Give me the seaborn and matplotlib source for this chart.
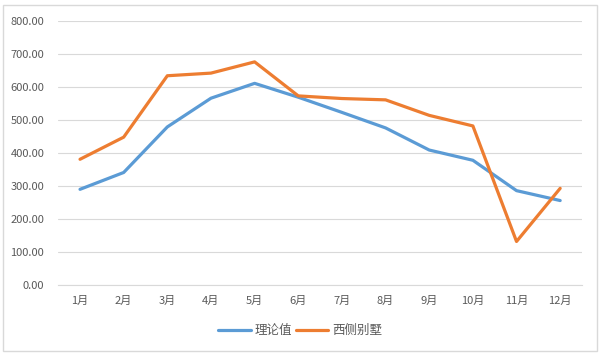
import matplotlib
matplotlib.use("Agg")
import matplotlib.pyplot as plt
import seaborn as sns
import pandas as pd
from matplotlib.patches import Rectangle

months = ["1月", "2月", "3月", "4月", "5月", "6月", "7月", "8月", "9月", "10月", "11月", "12月"]
theory = [290, 341, 479, 566, 611, 569, 523, 476, 409, 378, 286, 256]
west_villa = [381, 448, 634, 642, 676, 573, 565, 561, 514, 482, 132, 293]
series_names = ["理论值", "西侧别墅"]
yticks = [0, 100, 200, 300, 400, 500, 600, 700, 800]

df = pd.DataFrame({
    "month": months * 2,
    "value": theory + west_villa,
    "series": [series_names[0]] * 12 + [series_names[1]] * 12,
})

sns.set_theme(style="white")
plt.rcParams["font.family"] = ["Noto Sans CJK SC", "DejaVu Sans"]

fig = plt.figure(figsize=(6, 3.55), dpi=100)
ax = fig.add_axes([0.097, 0.197, 0.873, 0.744])

palette = {series_names[0]: "#5B9BD5", series_names[1]: "#ED7D31"}
sns.lineplot(data=df, x="month", y="value", hue="series", palette=palette,
             linewidth=2.3, ax=ax, legend=True, sort=False)

ax.set_xlim(-0.5, 11.5)
ax.set_ylim(0, 800)
ax.set_yticks(yticks)
ax.set_yticklabels([f"{v:.2f}" for v in yticks])
ax.grid(axis="y", color="#d9d9d9", linewidth=0.8)
ax.set_axisbelow(True)
for s in ["top", "right", "left"]:
    ax.spines[s].set_visible(False)
ax.spines["bottom"].set_color("#d9d9d9")
ax.spines["bottom"].set_linewidth(0.8)
ax.tick_params(axis="both", length=0, colors="#595959", labelsize=8)
ax.tick_params(axis="x", pad=8)
ax.tick_params(axis="y", pad=10)
ax.set_xlabel("")
ax.set_ylabel("")

handles, labels = ax.get_legend_handles_labels()
ax.get_legend().remove()
leg = fig.legend(handles, labels, loc="center", bbox_to_anchor=(0.5, 0.068), ncol=2,
                 frameon=False, fontsize=9, handlelength=2.6, columnspacing=0.3,
                 handletextpad=0.3)
for t in leg.get_texts():
    t.set_color("#595959")
for h in leg.get_lines():
    h.set_linewidth(2.3)

fig.patches.append(Rectangle((0.005, 0.012), 0.99, 0.975, transform=fig.transFigure,
                             fill=False, edgecolor="#d9d9d9", linewidth=1))

fig.savefig("out.png", dpi=100, facecolor="white")
